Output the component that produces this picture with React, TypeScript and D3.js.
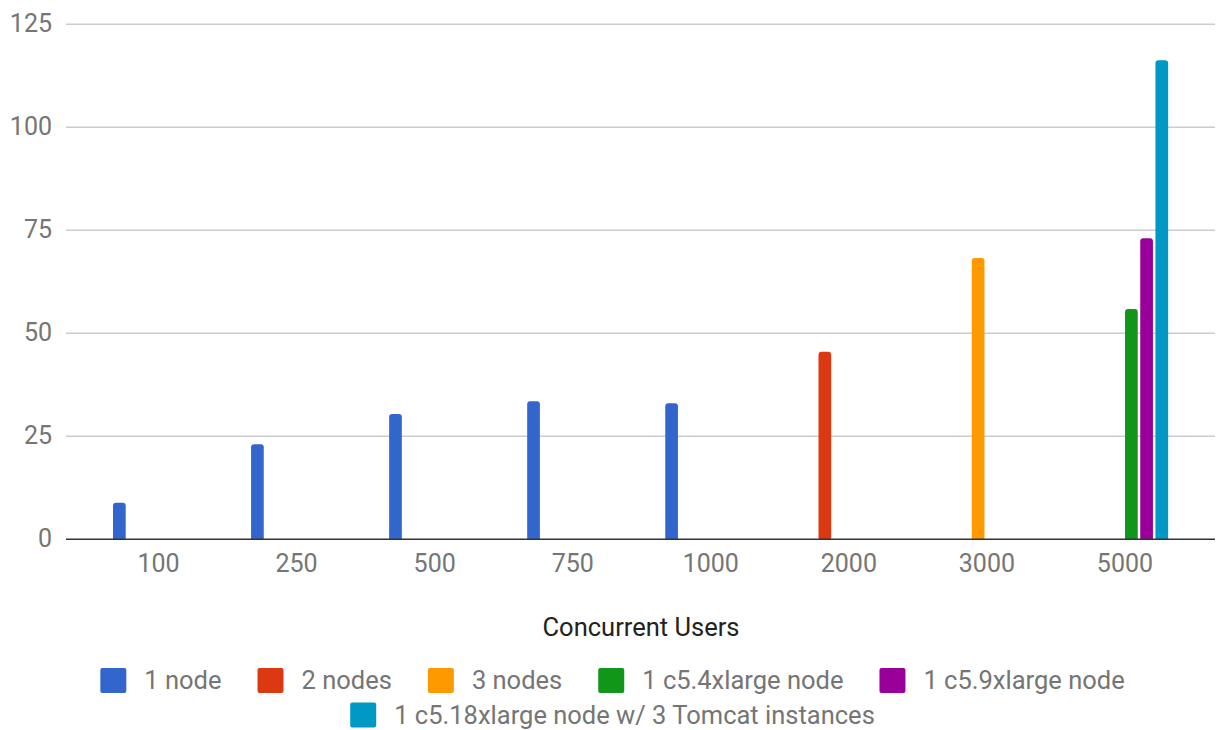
import { useEffect, useRef } from "react";
import * as d3 from "d3";

const categories = ["100", "250", "500", "750", "1000", "2000", "3000", "5000"];
const seriesNames = [
  "1 node",
  "2 nodes",
  "3 nodes",
  "1 c5.4xlarge node",
  "1 c5.9xlarge node",
  "1 c5.18xlarge node w/ 3 Tomcat instances",
];
const seriesColors = ["#3366cc", "#dc3912", "#ff9900", "#109618", "#990099", "#0099c6"];

// one value per category, null where the series has no bar
const oneNode = [8.9, 23.1, 30.4, 33.5, 33.0, null, null, null];
const twoNodes = [null, null, null, null, null, 45.5, null, null];
const threeNodes = [null, null, null, null, null, null, 68.3, null];
const c54xlarge = [null, null, null, null, null, null, null, 55.9];
const c59xlarge = [null, null, null, null, null, null, null, 73.1];
const c518xlarge = [null, null, null, null, null, null, null, 116.3];
const yTicks = [0, 25, 50, 75, 100, 125];

const allSeries = [oneNode, twoNodes, threeNodes, c54xlarge, c59xlarge, c518xlarge];

const W = 1218;
const H = 730;
const FONT = "Roboto, 'Noto Sans', sans-serif";
const FS = 25; // ticks
const FS_LEG = 25.5; // legend + title

const App = () => {
  const ref = useRef<SVGSVGElement>(null);

  useEffect(() => {
    const svg = d3.select(ref.current);
    svg.selectAll("*").remove();

    const left = 66,
      right = 1215,
      top = 24.3,
      bottom = 539.3;

    const x = d3.scaleBand().domain(categories).range([89.5, 1194]);
    const groupW = 88.7;
    const inner = d3
      .scaleBand()
      .domain(seriesNames)
      .range([0, groupW])
      .paddingInner(0.164);
    const groupOffset = 23.5;
    const y = d3.scaleLinear().domain([0, 125]).range([bottom, top]);

    // gridlines
    svg
      .append("g")
      .selectAll("line")
      .data(yTicks.filter((t) => t > 0))
      .enter()
      .append("line")
      .attr("x1", left)
      .attr("x2", right)
      .attr("y1", (d) => y(d))
      .attr("y2", (d) => y(d))
      .attr("stroke", "#cccccc")
      .attr("stroke-width", 1.5);

    // y labels
    svg
      .append("g")
      .selectAll("text")
      .data(yTicks)
      .enter()
      .append("text")
      .attr("x", 52)
      .attr("y", (d) => y(d))
      .attr("dy", "0.3em")
      .attr("text-anchor", "end")
      .attr("font-family", FONT)
      .attr("font-size", FS)
      .attr("fill", "#757575")
      .text((d) => d);

    // bars with rounded tops
    const r = 3;
    const barPath = (x0: number, w: number, yTop: number) => {
      const rr = Math.min(r, (bottom - yTop) / 2, w / 2);
      return `M${x0},${bottom}V${yTop + rr}Q${x0},${yTop} ${x0 + rr},${yTop}H${
        x0 + w - rr
      }Q${x0 + w},${yTop} ${x0 + w},${yTop + rr}V${bottom}Z`;
    };

    allSeries.forEach((vals, si) => {
      svg
        .append("g")
        .selectAll("path")
        .data(vals.map((v, i) => ({ v, c: categories[i] })).filter((d) => d.v != null))
        .enter()
        .append("path")
        .attr("d", (d) =>
          barPath(
            (x(d.c) as number) + groupOffset + (inner(seriesNames[si]) as number),
            inner.bandwidth(),
            y(d.v as number)
          )
        )
        .attr("fill", seriesColors[si]);
    });

    // baseline
    svg
      .append("line")
      .attr("x1", left)
      .attr("x2", right)
      .attr("y1", bottom)
      .attr("y2", bottom)
      .attr("stroke", "#333333")
      .attr("stroke-width", 1.5);

    // x labels
    svg
      .append("g")
      .selectAll("text")
      .data(categories)
      .enter()
      .append("text")
      .attr("x", (d) => (x(d) as number) + x.bandwidth() / 2)
      .attr("y", 572)
      .attr("text-anchor", "middle")
      .attr("font-family", FONT)
      .attr("font-size", FS)
      .attr("fill", "#757575")
      .text((d) => d);

    // axis title
    svg
      .append("text")
      .attr("x", 641)
      .attr("y", 636)
      .attr("text-anchor", "middle")
      .attr("font-family", FONT)
      .attr("font-size", FS_LEG)
      .attr("fill", "#222222")
      .text("Concurrent Users");

    // legend, wrapped into centred rows
    const legend = svg.append("g");
    const sw = 25;
    const textX = 44;
    const items = seriesNames.map((name, i) => {
      const g = legend.append("g");
      g.append("rect")
        .attr("width", sw + 1)
        .attr("height", sw)
        .attr("y", -sw / 2)
        .attr("rx", 2)
        .attr("fill", seriesColors[i]);
      const t = g
        .append("text")
        .attr("x", textX)
        .attr("dy", "0.35em")
        .attr("font-family", FONT)
        .attr("font-size", FS_LEG)
        .attr("fill", "#757575")
        .text(name);
      const w = textX + (t.node() as SVGTextElement).getComputedTextLength();
      return { g, w };
    });
    const gap = 36;
    const maxRow = 1100;
    const rows: { g: any; w: number }[][] = [[]];
    let rowW = 0;
    items.forEach((it) => {
      const cur = rows[rows.length - 1];
      const add = cur.length ? gap + it.w : it.w;
      if (cur.length && rowW + add > maxRow) {
        rows.push([it]);
        rowW = it.w;
      } else {
        cur.push(it);
        rowW += add;
      }
    });
    const legendCx = 612.5;
    rows.forEach((row, ri) => {
      const total = d3.sum(row, (d) => d.w) + gap * (row.length - 1);
      let cx = legendCx - total / 2;
      row.forEach((it) => {
        it.g.attr("transform", `translate(${cx}, ${680.5 + ri * 34.5})`);
        cx += it.w + gap;
      });
    });
  }, []);

  return (
    <svg
      ref={ref}
      width={W}
      height={H}
      style={{ position: "absolute", left: 0, top: 0, background: "#fff" }}
    ></svg>
  );
};

export default App;
